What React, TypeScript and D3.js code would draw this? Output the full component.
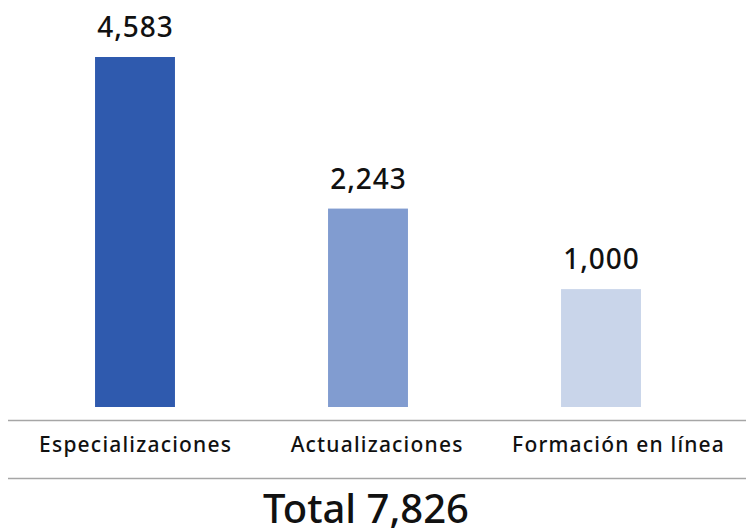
import React, { useEffect, useRef } from 'react';
import * as d3 from 'd3';

const categories = ['Especializaciones', 'Actualizaciones', 'Formación en línea'];
const values = [4583, 2243, 1000];
const colors = ['#2f5aae', '#819cd0', '#c9d5ea'];
const total = 7826;

function App() {
	const ref = useRef(null);

	useEffect(() => {
		const w = 746;
		const h = 529;
		const svg = d3.select(ref.current)
			.attr('width', w)
			.attr('height', h)
			.style('display', 'block');
		svg.selectAll('*').remove();

		const font = '"Noto Sans", "Open Sans", sans-serif';
		const yMin = -820;

		const x = d3.scaleBand()
			.domain(categories)
			.range([18.5, 717.5])
			.paddingInner(0.657)
			.paddingOuter(0.3285);

		// category labels sit on their own slightly wider spacing
		const xLabel = d3.scalePoint()
			.domain(categories)
			.range([135, 618]);

		const y = d3.scaleLinear()
			.domain([yMin, 4583])
			.range([407, 57]);

		const g = svg.append('g');

		g.selectAll('.bar')
			.data(values)
			.join('rect')
			.attr('x', (d, i) => x(categories[i]))
			.attr('y', d => y(d))
			.attr('width', x.bandwidth())
			.attr('height', d => y(yMin) - y(d))
			.attr('fill', (d, i) => colors[i]);

		const fmt = d3.format(',');
		g.selectAll('.val')
			.data(values)
			.join('text')
			.attr('x', (d, i) => x(categories[i]) + x.bandwidth() / 2 + 0.5)
			.attr('y', d => y(d) - 20)
			.attr('text-anchor', 'middle')
			.style('font-family', font)
			.style('font-weight', 500)
			.style('font-size', '28px')
			.style('letter-spacing', '1px')
			.attr('fill', '#111')
			.text(d => fmt(d));

		// lines
		svg.append('line')
			.attr('x1', 8).attr('x2', w)
			.attr('y1', 420.5).attr('y2', 420.5)
			.attr('stroke', '#a6a6a6')
			.attr('stroke-width', 1.5);
		svg.append('line')
			.attr('x1', 8).attr('x2', w)
			.attr('y1', 478.5).attr('y2', 478.5)
			.attr('stroke', '#a6a6a6')
			.attr('stroke-width', 1.5);

		g.selectAll('.cat')
			.data(categories)
			.join('text')
			.attr('x', d => xLabel(d) + 0.6)
			.attr('y', 452)
			.attr('text-anchor', 'middle')
			.style('font-family', font)
			.style('font-weight', 500)
			.style('font-size', '21px')
			.style('letter-spacing', '1.2px')
			.attr('fill', '#111')
			.text(d => d);

		svg.append('text')
			.attr('x', 366)
			.attr('y', 523)
			.attr('text-anchor', 'middle')
			.style('font-family', font)
			.style('font-weight', 500)
			.style('font-size', '40px')
			.attr('fill', '#111')
			.text('Total ' + fmt(total));
	}, []);

	return (
		<div style={{ position: 'absolute', left: 0, top: 0 }}>
			<svg ref={ref} />
		</div>
	);
}

export default App;
